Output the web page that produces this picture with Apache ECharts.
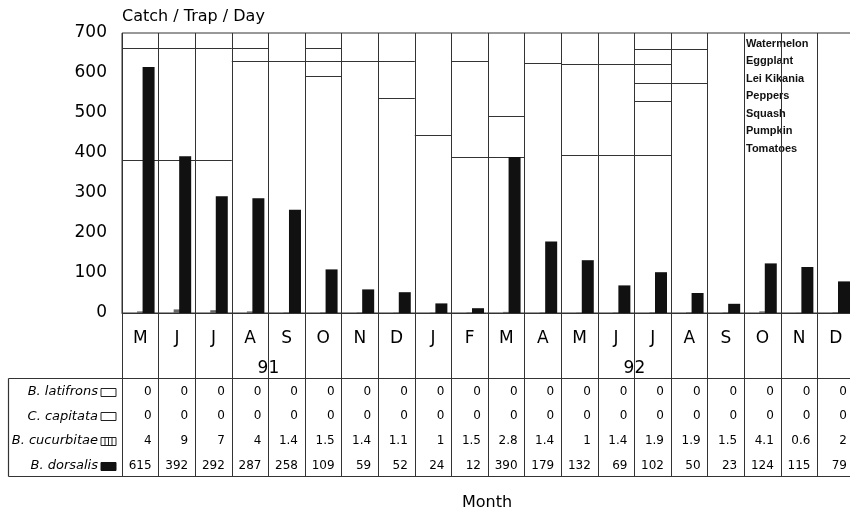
<!DOCTYPE html>
<html>
<head>
<meta charset="utf-8">
<script src="https://cdn.jsdelivr.net/npm/echarts@6/dist/echarts.min.js"></script>
<style>html,body{margin:0;padding:0;background:#fff;}#c{width:850px;height:514px;}</style>
</head>
<body>
<div id="c"></div>
<script>
const months = ['M','J','J','A','S','O','N','D','J','F','M','A','M','J','J','A','S','O','N','D'];
const yearLabels = ['91','92'];
const yearFirstMonth = [0, 8];
const yearLastMonth = [7, 19];
const rowNames = ['B. latifrons','C. capitata','B. cucurbitae','B. dorsalis'];
const latifrons = [0,0,0,0,0,0,0,0,0,0,0,0,0,0,0,0,0,0,0,0];
const capitata = [0,0,0,0,0,0,0,0,0,0,0,0,0,0,0,0,0,0,0,0];
const cucurbitae = [4,9,7,4,1.4,1.5,1.4,1.1,1,1.5,2.8,1.4,1,1.4,1.9,1.9,1.5,4.1,0.6,2];
const dorsalis = [615,392,292,287,258,109,59,52,24,12,390,179,132,69,102,50,23,124,115,79];
const hostPlants = ['Watermelon','Eggplant','Lei Kikania','Peppers','Squash','Pumpkin','Tomatoes'];
// host-plant segment boundaries per month (catch/trap/day scale)
const hostBreaks = [
  [663,383],[663,383],[663,383],[663,631],[631],[663,631,592],[631],[631,538],
  [444],[631,391],[492,391],[625],[623,396],[623,396],[661,623,575,529,396],[661,575],
  [],[],[],[]
];
const yTicks = [0,700,100];

const chart = echarts.init(document.getElementById('c'), null, {renderer:'canvas'});
const FONT = 'DejaVu Sans';
const LINE = '#333';

const hostData = [];
hostBreaks.forEach((arr,i)=>arr.forEach(v=>hostData.push([i,v])));
const seriesRows = [latifrons, capitata, cucurbitae, dorsalis];
const tableData = [];
seriesRows.forEach((arr,r)=>arr.forEach((v,i)=>tableData.push([i,r,v])));
const yearData = yearLabels.map((l,k)=>[yearFirstMonth[k], yearLastMonth[k], k]);

const TABLE_TOP = 2, ROW0 = 2.5, YEAR_ROW = 1.6;

const option = {
  animation:false,
  backgroundColor:'#fff',
  grid:[
    {left:122, top:33, width:732, height:280, containLabel:false, outerBoundsMode:'none', show:true, borderColor:LINE, borderWidth:1, backgroundColor:'transparent'},
    {left:122, top:313, width:732, height:164, containLabel:false, outerBoundsMode:'none', show:false}
  ],
  xAxis:[
    {type:'category', gridIndex:0, data:months, boundaryGap:true,
     axisLine:{show:true, lineStyle:{color:LINE}}, axisTick:{show:false},
     axisLabel:{show:true, interval:0, margin:17, color:'#000', fontFamily:FONT, fontSize:17},
     splitLine:{show:true, interval:0, lineStyle:{color:LINE, width:1}}},
    {type:'category', gridIndex:1, data:months, boundaryGap:true,
     axisLine:{show:false}, axisTick:{show:false}, axisLabel:{show:false},
     splitLine:{show:true, interval:0, lineStyle:{color:LINE, width:1}}}
  ],
  yAxis:[
    {type:'value', gridIndex:0, min:yTicks[0], max:yTicks[1], interval:yTicks[2],
     axisLine:{show:false}, axisTick:{show:false}, splitLine:{show:false},
     axisLabel:{color:'#000', fontFamily:FONT, fontSize:17, margin:15}},
    {type:'value', gridIndex:1, min:-0.65, max:6, inverse:true, show:false}
  ],
  graphic:[
    {type:'text', left:122, top:9, style:{text:'Catch / Trap / Day', font:'16px "DejaVu Sans"', fill:'#000'}},
    {type:'text', left:462, top:495, style:{text:'Month', font:'16px "DejaVu Sans"', fill:'#000'}},
    {type:'group', left:746, top:38, children: hostPlants.map((n,k)=>({
      type:'text', left:0, top:k*17.5, style:{text:n, font:'bold 11px "Liberation Sans"', fill:'#111'}
    }))}
  ],
  series:[
    {type:'custom', xAxisIndex:0, yAxisIndex:0, z:1, data:hostData,
     renderItem:(params, api)=>{
       const p = api.coord([api.value(0), api.value(1)]);
       const bw = api.size([1,0])[0];
       const y = Math.round(p[1]) + 0.5;
       return {type:'line', shape:{x1:p[0]-bw/2, y1:y, x2:p[0]+bw/2, y2:y}, style:{stroke:LINE, lineWidth:1}};
     }},
    {name:'B. latifrons', type:'bar', data:latifrons, barWidth:12, barGap:'-54%', itemStyle:{color:'#fff', borderColor:'#111', borderWidth:0}, z:3},
    {name:'C. capitata', type:'bar', data:capitata, barWidth:12, barGap:'-54%', itemStyle:{color:'#fff', borderColor:'#111', borderWidth:0}, z:3},
    {name:'B. cucurbitae', type:'bar', data:cucurbitae, barWidth:12, barGap:'-54%', itemStyle:{color:'#666'}, z:3},
    {name:'B. dorsalis', type:'bar', data:dorsalis, barWidth:12, barGap:'-54%', itemStyle:{color:'#111'}, z:4},
    // table values
    {type:'custom', xAxisIndex:1, yAxisIndex:1, z:5, data:tableData,
     renderItem:(params, api)=>{
       const i = api.value(0), r = api.value(1), v = api.value(2);
       const p = api.coord([i, ROW0 + r]);
       const bw = api.size([1,0])[0];
       return {type:'text', style:{x:p[0]+bw/2-7, y:p[1]+1, text:String(v), align:'right', verticalAlign:'middle', font:'12px "DejaVu Sans"', fill:'#000'}};
     }},
    // year labels
    {type:'custom', xAxisIndex:1, yAxisIndex:1, z:5, data:yearData,
     renderItem:(params, api)=>{
       const a = api.coord([api.value(0), YEAR_ROW]);
       const b = api.coord([api.value(1), YEAR_ROW]);
       return {type:'text', style:{x:(a[0]+b[0])/2, y:a[1], text:yearLabels[api.value(2)], align:'center', verticalAlign:'middle', font:'17px "DejaVu Sans"', fill:'#000'}};
     }},
    // row labels, legend keys and table frame
    {type:'custom', xAxisIndex:1, yAxisIndex:1, z:5, data:rowNames.map((n,r)=>[0,r]),
     renderItem:(params, api)=>{
       const r = api.value(1);
       const p = api.coord([0, ROW0 + r]);
       const bw = api.size([1,0])[0];
       const gl = p[0] - bw/2;
       const cy = p[1] + 1;
       const children = [];
       children.push({type:'text', style:{x:gl-24, y:cy, text:rowNames[r], align:'right', verticalAlign:'middle', font:'italic 13px "DejaVu Sans"', fill:'#000'}});
       const bx = gl-21, bwid = 15, bh = 8, by = Math.round(cy - bh/2)+0.5;
       if (r === 3) {
         children.push({type:'rect', shape:{x:bx, y:by, width:bwid, height:bh}, style:{fill:'#111', stroke:'#111', lineWidth:1}});
       } else {
         children.push({type:'rect', shape:{x:bx, y:by, width:bwid, height:bh}, style:{fill:'#fff', stroke:'#222', lineWidth:1}});
         if (r === 2) {
           [4,7.5,11].forEach(dx=>children.push({type:'line', shape:{x1:bx+dx, y1:by, x2:bx+dx, y2:by+bh}, style:{stroke:'#222', lineWidth:1}}));
         }
       }
       if (r === 0) {
         const top = Math.round(api.coord([0, TABLE_TOP])[1]) + 0.5;
         const bot = Math.round(api.coord([0, 6])[1]) - 0.5;
         const W = api.getWidth();
         children.push({type:'line', shape:{x1:8.5, y1:top, x2:W, y2:top}, style:{stroke:LINE, lineWidth:1.2}});
         children.push({type:'line', shape:{x1:8.5, y1:bot, x2:W, y2:bot}, style:{stroke:LINE, lineWidth:1.2}});
         children.push({type:'line', shape:{x1:8.5, y1:top, x2:8.5, y2:bot}, style:{stroke:LINE, lineWidth:1.2}});
       }
       return {type:'group', children};
     }}
  ]
};
chart.setOption(option);
</script>
</body>
</html>
